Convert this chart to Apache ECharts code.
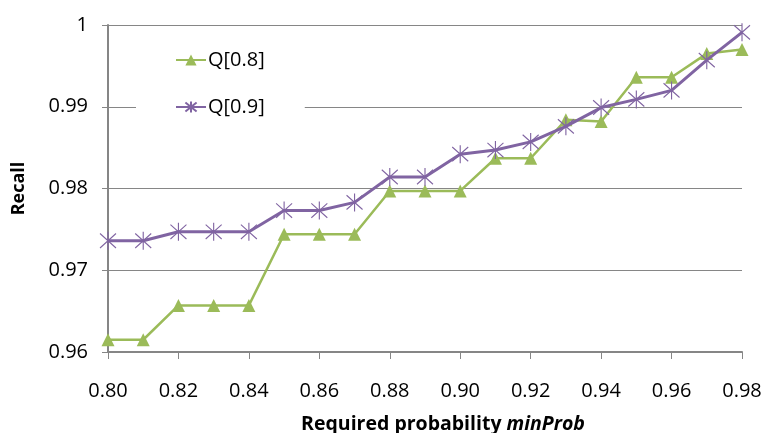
<!DOCTYPE html>
<html>
<head>
<meta charset="utf-8">
<script src="https://cdn.jsdelivr.net/npm/echarts@6/dist/echarts.min.js"></script>
<style>html,body{margin:0;padding:0;background:#fff;}#c{width:765px;height:433px;}</style>
</head>
<body>
<div id="c"></div>
<script>
var xValues = [0.80,0.81,0.82,0.83,0.84,0.85,0.86,0.87,0.88,0.89,0.90,0.91,0.92,0.93,0.94,0.95,0.96,0.97,0.98];
var q08 = [0.9615,0.9615,0.9657,0.9657,0.9657,0.9744,0.9744,0.9744,0.9797,0.9797,0.9797,0.9837,0.9837,0.9884,0.9882,0.9936,0.9936,0.9965,0.9970];
var q09 = [0.9736,0.9736,0.9747,0.9747,0.9747,0.9773,0.9773,0.9783,0.9814,0.9814,0.9842,0.9847,0.9857,0.9876,0.9899,0.9909,0.9920,0.9957,0.9991];
var seriesNames = ['Q[0.8]','Q[0.9]'];

function pairs(v){ return xValues.map(function(x,i){ return [x, v[i]]; }); }
var FONT = '"Open Sans", "Liberation Sans", sans-serif';
var GREEN = '#9BBB59', PURPLE = '#8064A2', GRAY = '#868686';
var starPath = 'path://M0,-10L0,10M-8,-8L8,8M-8,8L8,-8M0,-10';

var chart = echarts.init(document.getElementById('c'));
chart.setOption({
  animation: false,
  backgroundColor: '#fff',
  grid: {left: 108, right: 23, top: 25, bottom: 81, containLabel: false, outerBoundsMode: 'none'},
  legend: {
    orient: 'vertical', left: 136, top: 39,
    padding: [10, 40, 10, 39],
    backgroundColor: '#fff',
    itemWidth: 30, itemHeight: 14, itemGap: 25,
    textStyle: {fontFamily: FONT, fontSize: 20, color: '#000', lineHeight: 22, padding: [0,0,0,-3]},
    data: seriesNames
  },
  xAxis: {
    type: 'value', min: 0.8, max: 0.98, interval: 0.02,
    name: '{b|Required probability }{i|minProb}',
    nameLocation: 'middle', nameGap: 62,
    nameTextStyle: {padding: [0, 0, 0, 36], rich: {
      b: {fontFamily: FONT, fontSize: 19.5, fontWeight: 'bold', color: '#000'},
      i: {fontFamily: FONT, fontSize: 19.5, fontWeight: 'bold', fontStyle: 'italic', color: '#000'}
    }},
    axisLine: {lineStyle: {color: GRAY, width: 2}},
    axisTick: {show: true, length: 7, lineStyle: {color: GRAY, width: 1}},
    axisLabel: {fontFamily: FONT, fontSize: 20, color: '#000', margin: 29,
      formatter: function(v){ return v.toFixed(2); }},
    splitLine: {show: false}
  },
  yAxis: {
    type: 'value', min: 0.96, max: 1, interval: 0.01,
    name: 'Recall', nameLocation: 'middle', nameGap: 80, nameRotate: 90,
    nameTextStyle: {fontFamily: FONT, fontSize: 18, fontWeight: 'bold', color: '#000'},
    axisLine: {show: true, lineStyle: {color: GRAY, width: 2}},
    axisTick: {show: true, length: 6, lineStyle: {color: GRAY, width: 1}},
    axisLabel: {fontFamily: FONT, fontSize: 20, color: '#000', margin: 20,
      formatter: function(v){ return String(parseFloat(v.toFixed(2))); }},
    splitLine: {show: true, lineStyle: {color: GRAY, width: 1}}
  },
  series: [
    {
      name: seriesNames[0], type: 'line', data: pairs(q08),
      symbol: 'triangle', symbolSize: 13, showAllSymbol: true,
      lineStyle: {color: GREEN, width: 2.5},
      itemStyle: {color: GREEN},
      z: 2
    },
    {
      name: seriesNames[1], type: 'line', data: pairs(q09),
      symbol: starPath, symbolSize: [16, 18], showAllSymbol: true,
      lineStyle: {color: PURPLE, width: 3},
      itemStyle: {color: 'none', borderColor: PURPLE, borderWidth: 1.2},
      z: 3
    }
  ]
});
</script>
</body>
</html>
